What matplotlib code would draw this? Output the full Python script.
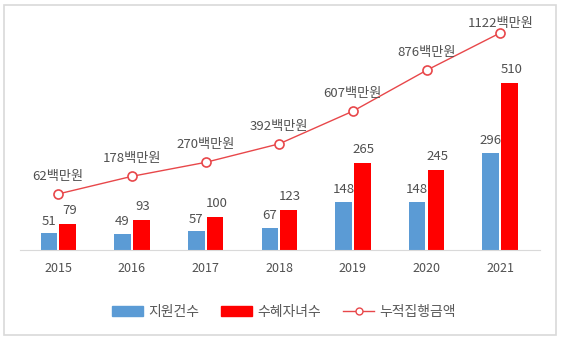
import matplotlib.pyplot as plt
import numpy as np
from matplotlib.patches import Rectangle
from matplotlib.lines import Line2D
from matplotlib.patches import Patch

plt.rcParams['font.family'] = ['Noto Sans CJK KR', 'DejaVu Sans']

years = ['2015', '2016', '2017', '2018', '2019', '2020', '2021']
support_cnt = [51, 49, 57, 67, 148, 148, 296]
children_cnt = [79, 93, 100, 123, 265, 245, 510]
cum_amount = [62, 178, 270, 392, 607, 876, 1122]

blue = '#5b9bd5'
red = '#ff0000'
line_red = '#e8474a'
txt = '#505050'

fig = plt.figure(figsize=(5.61, 3.40), dpi=100)
fig.patches.append(Rectangle((4 / 561, 5 / 340), 552 / 561, 330 / 340, transform=fig.transFigure,
                             fill=False, edgecolor='#d9d9d9', linewidth=1.2))

ax = fig.add_axes([20 / 561, 1 - 250 / 340, 520 / 561, 230 / 340])
x = np.arange(len(years))
w = 0.226
b1 = ax.bar(x - 0.128, support_cnt, w, color=blue)
b2 = ax.bar(x + 0.128, children_cnt, w, color=red)
ax.set_ylim(0, 702)
ax.set_xlim(-0.52, 6.54)

for rect, v in zip(b1, support_cnt):
    ax.annotate(str(v), (rect.get_x() + rect.get_width() / 2, v), xytext=(0, 4),
                textcoords='offset points', ha='center', va='bottom', fontsize=9.5, color=txt)
for rect, v in zip(b2, children_cnt):
    ax.annotate(str(v), (rect.get_x() + rect.get_width() / 2 + 0.02, v), xytext=(0, 5),
                textcoords='offset points', ha='center', va='bottom', fontsize=9.5, color=txt)

for s in ['top', 'right', 'left']:
    ax.spines[s].set_visible(False)
ax.spines['bottom'].set_color('#d9d9d9')
ax.set_yticks([])
ax.set_xticks(x)
ax.set_xticklabels(years, fontsize=9, color=txt)
ax.tick_params(axis='x', length=0, pad=9)

ax2 = ax.twinx()
ax2.plot(x, cum_amount, color=line_red, linewidth=1, marker='o', markersize=6.5,
         markerfacecolor='white', markeredgecolor=line_red, markeredgewidth=1.2)
ax2.set_ylim(-307, 1207)
ax2.set_yticks([])
for s in ['top', 'right', 'left', 'bottom']:
    ax2.spines[s].set_visible(False)
for xi, v in zip(x, cum_amount):
    dy = 2 if v == cum_amount[-1] else 8
    ax2.annotate(f'{v}백만원', (xi, v), xytext=(0, dy), textcoords='offset points',
                 ha='center', va='bottom', fontsize=9.5, color=txt)

handles = [Patch(color=blue), Patch(color=red),
           Line2D([0], [0], color=line_red, linewidth=1, marker='o', markersize=5,
                  markerfacecolor='white', markeredgecolor=line_red)]
fig.legend(handles, ['지원건수', '수혜자녀수', '누적집행금액'], loc='center',
           bbox_to_anchor=(284 / 561, 1 - 312 / 340), ncol=3, frameon=False,
           fontsize=10, labelcolor='#595959', handlelength=2.2, handleheight=0.7,
           columnspacing=1.6, handletextpad=0.4)

fig.savefig('out.png', dpi=100)
